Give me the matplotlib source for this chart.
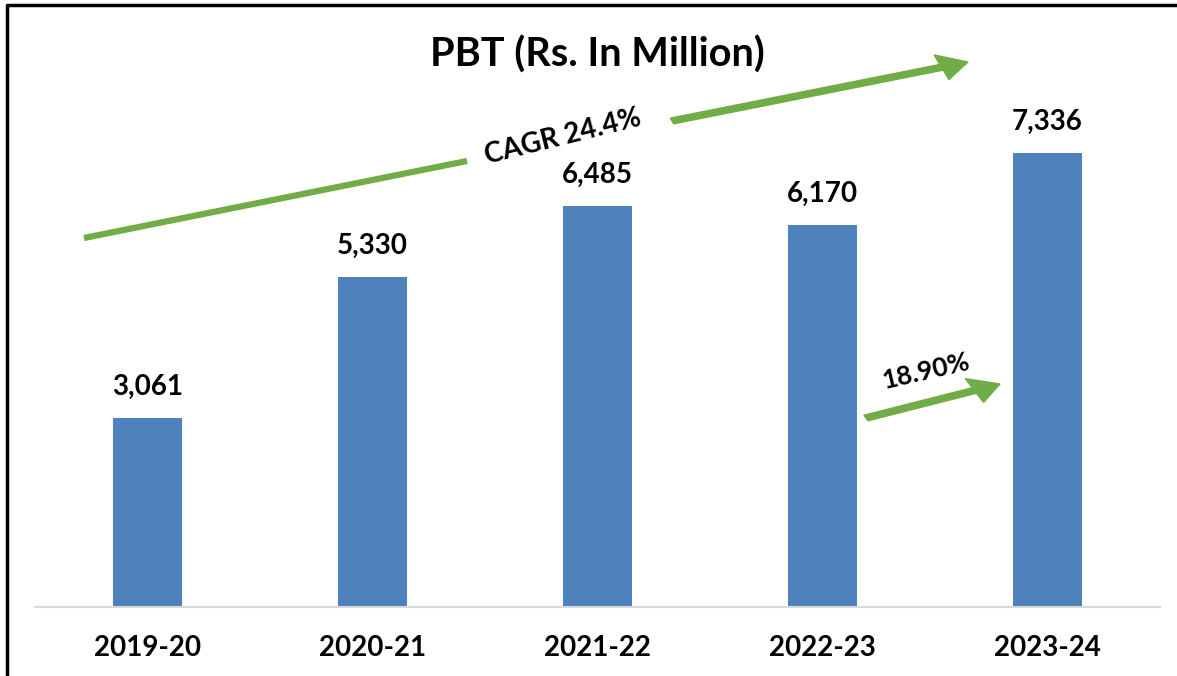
"""PBT bar chart (Rs. in Million) with CAGR arrows."""

import matplotlib.pyplot as plt
from matplotlib.lines import Line2D
from matplotlib.patches import FancyArrow

years = ["2019-20", "2020-21", "2021-22", "2022-23", "2023-24"]
pbt = [3061, 5330, 6485, 6170, 7336]
cagr_label = "CAGR 24.4%"
yoy_label = "18.90%"

BLUE = "#4F81BD"
GREEN = "#70AD47"
W, H = 1177, 676

plt.rcParams["font.family"] = ["Lato", "DejaVu Sans"]


def fx(px):
    return px / W


def fy(py):
    return 1 - py / H


fig = plt.figure(figsize=(W / 100, H / 100), dpi=100)
ax = fig.add_axes([fx(35), fy(607), fx(1160) - fx(35), fy(113) - fy(607)])

x = range(len(years))
bars = ax.bar(x, pbt, width=0.31, color=BLUE, zorder=2)
ax.set_xlim(-0.5, len(years) - 0.5)
ax.set_ylim(0, 7980)

for b, v in zip(bars, pbt):
    ax.annotate(f"{v:,}", (b.get_x() + b.get_width() / 2, v),
                xytext=(0, 13), textcoords="offset points",
                ha="center", va="bottom", fontsize=20, fontweight="bold")

ax.set_xticks(list(x))
ax.set_xticklabels(years, fontsize=20, fontweight="bold")
ax.tick_params(axis="x", length=0, pad=20)
ax.set_yticks([])
for side in ["left", "right", "top"]:
    ax.spines[side].set_visible(False)
ax.spines["bottom"].set_color("#D9D9D9")
ax.spines["bottom"].set_linewidth(1.5)

fig.text(fx(597), fy(55), "PBT (Rs. In Million)", ha="center", va="center",
         fontsize=28.5, fontweight="bold")

# long CAGR arrow, broken where the label sits
fig.add_artist(Line2D([fx(84), fx(467)], [fy(238), fy(161)],
                      color=GREEN, lw=4.5, solid_capstyle="butt"))
fig.add_artist(FancyArrow(fx(672), fy(121), fx(968) - fx(672), fy(62) - fy(121),
                          width=6 / H, head_width=26 / H, head_length=28 / W,
                          length_includes_head=True, color=GREEN,
                          transform=fig.transFigure))
fig.text(fx(563), fy(137), cagr_label, ha="center", va="center",
         rotation=14, fontsize=20, fontweight="bold")

# year-on-year arrow
fig.add_artist(FancyArrow(fx(866), fy(418), fx(1000) - fx(866), fy(384) - fy(418),
                          width=6 / H, head_width=26 / H, head_length=28 / W,
                          length_includes_head=True, color=GREEN,
                          transform=fig.transFigure))
fig.text(fx(926), fy(371), yoy_label, ha="center", va="center",
         rotation=13, fontsize=19, fontweight="bold")

# outer frame (top and left edges)
fig.add_artist(Line2D([fx(7), fx(7), fx(W)], [0, fy(5), fy(5)],
                      color="black", lw=2.5))

fig.savefig("out.png", dpi=100)
